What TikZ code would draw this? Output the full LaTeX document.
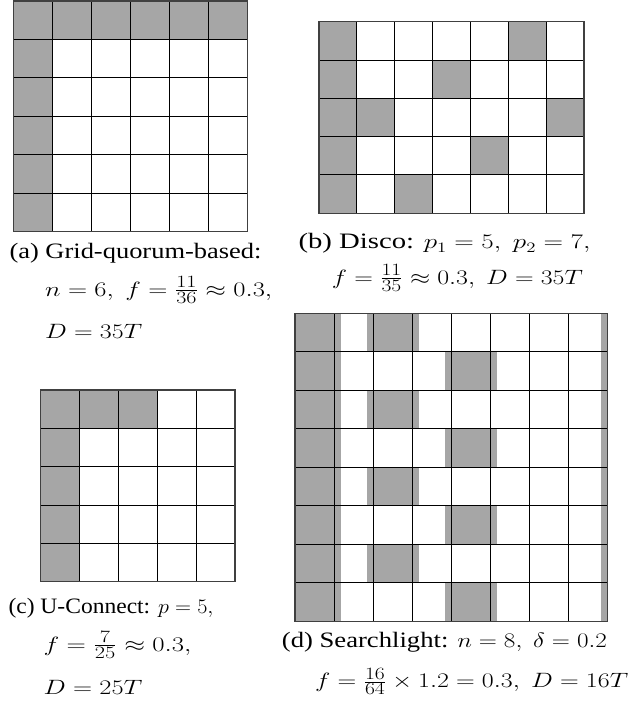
\documentclass[tikz,border=0pt]{standalone}
\usepackage{fontspec}
\usepackage{amsmath}
\setmainfont{Liberation Serif}
\definecolor{cellgray}{HTML}{A6A6A6}
\tikzset{
  gridline/.style={line width=1.1pt, black},
  gridframe/.style={line width=1.5pt, black!75},
  shade/.style={fill=cellgray},
  captxt/.style={anchor=base west, inner sep=0pt, font=\fontsize{22}{26}\selectfont}
}
% inline fraction with larger digits
\newcommand\ifr[2]{\frac{\hbox{\fontsize{16.5}{16.5}\selectfont$#1$}}{\hbox{\fontsize{16.5}{16.5}\selectfont$#2$}}}
% grid: x0, y0, w, h, cols, rows  (interior lines snapped to pixel centres)
\newcommand\qgrid[6]{%
  \foreach \k in {1,...,\numexpr#5-1\relax}{\draw[gridline] ({round(#1+\k*#3-0.5)+0.5},#2) -- ({round(#1+\k*#3-0.5)+0.5},{#2+#6*#4});}
  \foreach \k in {1,...,\numexpr#6-1\relax}{\draw[gridline] (#1,{round(#2+\k*#4-0.5)+0.5}) -- ({#1+#5*#3},{round(#2+\k*#4-0.5)+0.5});}
  \draw[gridframe] (#1,#2) rectangle ({#1+#5*#3},{#2+#6*#4});
}
% cell: x0, y0, w, h, col, row
\newcommand\qcell[6]{\fill[shade] ({#1+(#5-1)*#3},{#2+(#6-1)*#4}) rectangle +(#3,#4);}
\begin{document}
\begin{tikzpicture}[x=1pt,y=-1pt]
\useasboundingbox (0,0) rectangle (635,708);
% ---------- (a) ----------
\def\ax{13.3}\def\ay{1}\def\aw{39}\def\ah{38.45}
\foreach \c in {1,...,6}{\qcell{\ax}{\ay}{\aw}{\ah}{\c}{1}}
\foreach \r in {2,...,6}{\qcell{\ax}{\ay}{\aw}{\ah}{1}{\r}}
\qgrid{\ax}{\ay}{\aw}{\ah}{6}{6}
% ---------- (b) ----------
\def\bx{319}\def\by{21.7}\def\bw{37.86}\def\bh{38.32}
\foreach \r in {1,...,5}{\qcell{\bx}{\by}{\bw}{\bh}{1}{\r}}
\qcell{\bx}{\by}{\bw}{\bh}{6}{1}
\qcell{\bx}{\by}{\bw}{\bh}{4}{2}
\qcell{\bx}{\by}{\bw}{\bh}{2}{3}
\qcell{\bx}{\by}{\bw}{\bh}{7}{3}
\qcell{\bx}{\by}{\bw}{\bh}{5}{4}
\qcell{\bx}{\by}{\bw}{\bh}{3}{5}
\qgrid{\bx}{\by}{\bw}{\bh}{7}{5}
% ---------- (c) ----------
\def\cx{40.7}\def\cy{390}\def\cw{38.86}\def\ch{38.34}
\foreach \c in {1,...,3}{\qcell{\cx}{\cy}{\cw}{\ch}{\c}{1}}
\foreach \r in {2,...,5}{\qcell{\cx}{\cy}{\cw}{\ch}{1}{\r}}
\qgrid{\cx}{\cy}{\cw}{\ch}{5}{5}
% ---------- (d) ----------
\def\dx{295}\def\dy{313.3}\def\dw{39.09}\def\dh{38.52}\def\ds{6.5}
\foreach \r in {1,...,8}{\qcell{\dx}{\dy}{\dw}{\dh}{1}{\r}}
\fill[shade] ({\dx+\dw},\dy) rectangle +(\ds,{8*\dh});
\fill[shade] ({\dx+8*\dw-\ds},\dy) rectangle +(\ds,{8*\dh});
\foreach \r in {1,3,5,7}{
  \fill[shade] ({\dx+2*\dw-\ds},{\dy+(\r-1)*\dh}) rectangle +({\dw+2*\ds},\dh);}
\foreach \r in {2,4,6,8}{
  \fill[shade] ({\dx+4*\dw-\ds},{\dy+(\r-1)*\dh}) rectangle +({\dw+2*\ds},\dh);}
\qgrid{\dx}{\dy}{\dw}{\dh}{8}{8}
% ---------- captions ----------
\node[captxt] (a1) at (9.3,258.3) {\resizebox{252pt}{\height}{(a) Grid-quorum-based:}};
\node[captxt] (a2) at (45,296) {\resizebox{227pt}{\height}{$n=6,\ f=\ifr{11}{36}\approx 0.3,$}};
\node[captxt] (a3) at (45,338) {\resizebox{97pt}{\height}{$D=35T$}};
\node[captxt] (b1) at (298.3,249) {\resizebox{292pt}{\height}{(b) Disco: $p_1=5,\ p_2=7,$}};
\node[captxt] (b2) at (331.7,284) {\resizebox{251pt}{\height}{$f=\ifr{11}{35}\approx 0.3,\ D=35T$}};
\node[captxt] (c1) at (8.3,613) {\resizebox{205pt}{\height}{(c) U-Connect: $p=5,$}};
\node[captxt] (c2) at (43.3,651) {\resizebox{148pt}{\height}{$f=\ifr{7}{25}\approx 0.3,$}};
\node[captxt] (c3) at (43.3,694) {\resizebox{99pt}{\height}{$D=25T$}};
\node[captxt] (d1) at (281.7,647) {\resizebox{325pt}{\height}{(d) Searchlight: $n=8,\ \delta=0.2$}};
\node[captxt] (d2) at (315,687.5) {\resizebox{313pt}{\height}{$f=\ifr{16}{64}\times 1.2=0.3,\ D=16T$}};
\end{tikzpicture}
\end{document}
